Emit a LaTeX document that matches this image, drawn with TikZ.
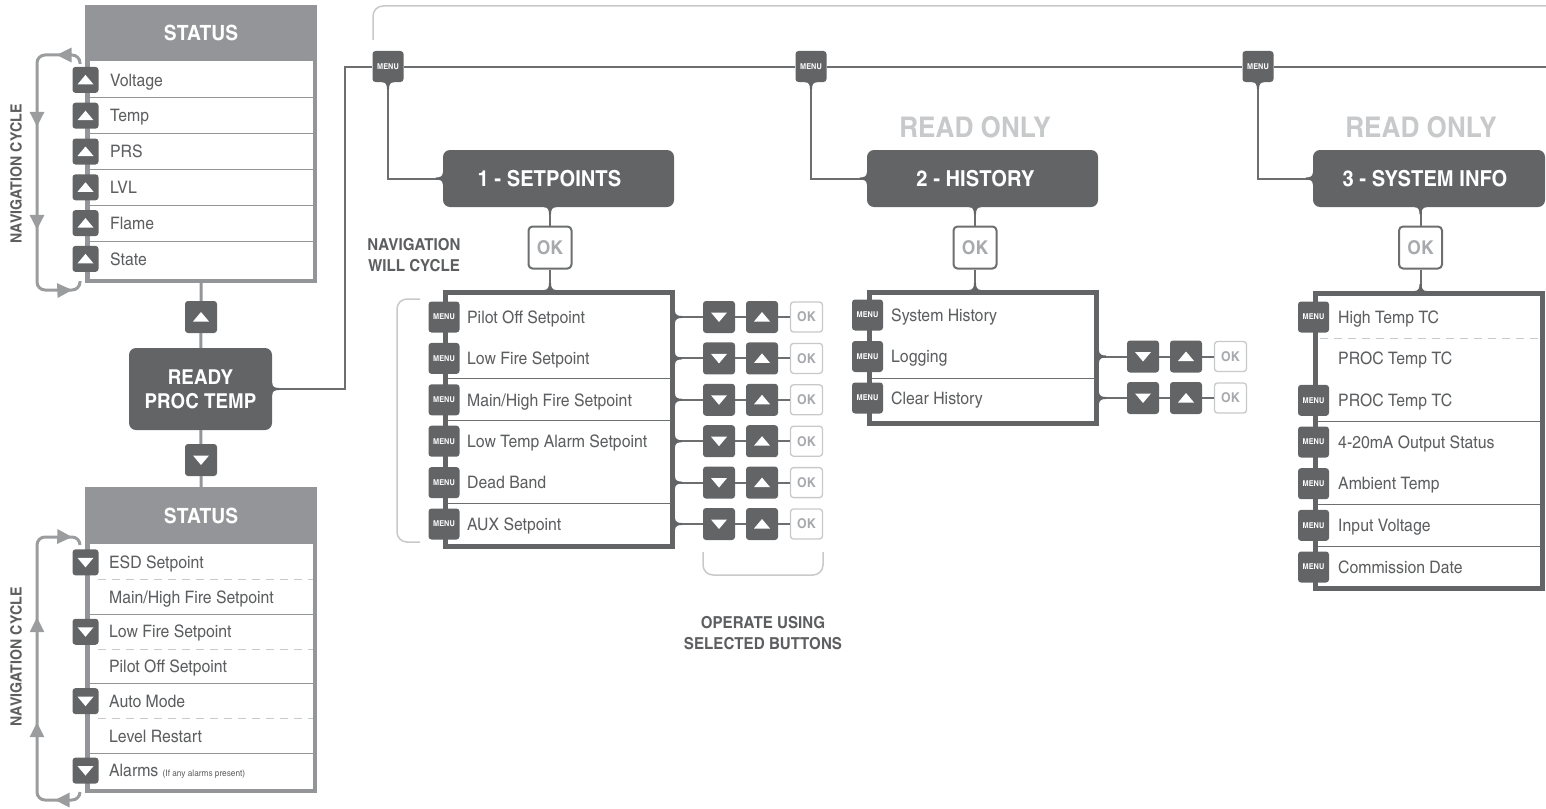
\documentclass[tikz,border=0pt]{standalone}
\usepackage{fontspec}
\setmainfont{texgyreheroscn}[Extension=.otf,UprightFont=*-regular,BoldFont=*-bold,FakeStretch=1.12]
\definecolor{boxgray}{HTML}{636466}
\definecolor{linegray}{HTML}{6D6E70}
\definecolor{hdrgray}{HTML}{939598}
\definecolor{cyclegray}{HTML}{9B9C9E}
\definecolor{faint}{HTML}{C8C9CB}
\definecolor{txtgray}{HTML}{5D5E60}
\definecolor{okgray}{HTML}{A7A9AC}
\usetikzlibrary{positioning,arrows.meta,calc,decorations.markings}

\begin{document}
\begin{tikzpicture}[x=1pt,y=-1pt,every node/.style={inner sep=0pt,text=txtgray},
      item/.style={anchor=west,text height=12.4pt,text depth=0pt,font=\fontsize{17.2}{19}\selectfont},
      hdr/.style={fill=hdrgray,minimum width=232pt,minimum height=56pt,text=white,font=\bfseries\fontsize{21}{24}\selectfont},
      stbox/.style={draw=hdrgray,line width=4.5pt,fill=white,minimum width=227.5pt},
      lstbox/.style={draw=boxgray,line width=5pt,fill=white,minimum width=227pt},
      secbox/.style={fill=boxgray,rounded corners=7pt,minimum width=231pt,minimum height=57pt,text=white,font=\bfseries\fontsize{22}{26}\selectfont},
      btn/.style={fill=boxgray,rounded corners=3pt,minimum width=#1,minimum height=#1},
      upbtn/.style={btn=#1,path picture={\fill[white,sharp corners] ($(path picture bounding box.center)+(-8,4.5)$) -- ++(16,0) -- ++(-8,-9.5) -- cycle;}},
      upbtn/.default=32pt,
      downbtn/.style={btn=#1,path picture={\fill[white,sharp corners] ($(path picture bounding box.center)+(-8,-4.5)$) -- ++(16,0) -- ++(-8,9.5) -- cycle;}},
      downbtn/.default=32pt,
      menubtn/.style={btn=31pt,text=white,font=\bfseries\fontsize{8}{8}\selectfont},
      okbig/.style={draw=linegray,line width=2pt,fill=white,rounded corners=4pt,minimum width=43pt,minimum height=42pt,text=okgray,font=\bfseries\fontsize{19}{22}\selectfont},
      oksmall/.style={draw=faint,line width=1.3pt,fill=white,rounded corners=3pt,minimum width=32pt,minimum height=30pt,text=okgray,font=\bfseries\fontsize{13.5}{15}\selectfont},
      conn/.style={draw=linegray,line width=2pt},
      stconn/.style={draw=hdrgray,line width=3pt},
      bracket/.style={draw=faint,line width=1.5pt,rounded corners=10pt},
      navloop/.style={draw=cyclegray,line width=3pt,rounded corners=8pt,postaction={decorate}},
      note/.style={font=\bfseries\fontsize{16.5}{21}\selectfont,align=center},
      readonly/.style={text=faint,font=\bfseries\fontsize{28.5}{34}\selectfont},
      sep/.style={draw=#1,line width=1pt},
      fillet/.pic={\fill[boxgray] (-6,0) .. controls (-2,0) and (-1,3) .. (-1,7) -- (1,7) .. controls (1,3) and (2,0) .. (6,0) -- cycle;}]
    \useasboundingbox (0,0) rectangle (1546,808);

    % status above
    \node[stbox,minimum height=272.5pt] (stA) at (201,144.5) {};
    \node[hdr] (stAh) at (201,33) {STATUS};
    \foreach \t [count=\i, evaluate=\i as \y using 62+35.8*(\i-0.5)] in {Voltage,Temp,PRS,LVL,Flame,State} {
      \node[upbtn=26pt] (stAb\i) at (85.5,\y) {};
      \node[item] at (110,\y) {\t};
    }
    \foreach \i [evaluate=\i as \y using 62+35.8*\i] in {1,...,5}
      \draw[sep=hdrgray] (89,\y) -- (313,\y);
    \draw[navloop,decoration={markings,
        mark=at position 29pt with {\arrow[cyclegray]{Triangle[length=15pt,width=14pt]}},
        mark=at position 117pt with {\arrow[cyclegray]{Triangle[length=15pt,width=14pt]}},
        mark=at position 220pt with {\arrow[cyclegray]{Triangle[length=15pt,width=14pt]}},
        mark=at position 312pt with {\arrow[cyclegray]{Triangle[length=15pt,width=14pt]}}}]
      (80,64) -- (80,55) -- (37,55) -- (37,290) -- (80,290) -- (80,281);
    \node[note,rotate=90,font=\bfseries\fontsize{15.5}{18}\selectfont] at (16,174) {NAVIGATION CYCLE};

    % ready screen
    \node[upbtn] (stUp) at (201,317) {};
    \node[fill=boxgray,rounded corners=7pt,minimum width=143pt,minimum height=82pt,text=white,
      font=\bfseries\fontsize{20.5}{24}\selectfont,align=center] (ready) at (200.5,389) {READY\\PROC TEMP};
    \node[downbtn] (stDn) at (201,460) {};

    % status below
    \node[stbox,minimum height=300.5pt] (stB) at (201,640.5) {};
    \node[hdr,minimum height=57pt] (stBh) at (201,515.5) {STATUS};
    \foreach \t [count=\i, evaluate=\i as \y using 545+34.7*(\i-0.5)] in {ESD Setpoint,Main/High Fire Setpoint,Low Fire Setpoint,Pilot Off Setpoint,Auto Mode,Level Restart,Alarms {\fontsize{9}{10}\selectfont(If any alarms present)}}
      \node[item] at (109,\y) {\t};
    \foreach \i [evaluate=\i as \y using 545+34.7*(\i-0.5)] in {1,3,5,7}
      \node[downbtn=26pt] (stBb\i) at (85.5,\y) {};
    \foreach \i [evaluate=\i as \y using 545+34.7*\i] in {1,3,5}
      \draw[sep=faint,dash pattern=on 8pt off 6pt] (98,\y) -- (313,\y);
    \foreach \i [evaluate=\i as \y using 545+34.7*\i] in {2,4,6}
      \draw[sep=hdrgray] (89,\y) -- (313,\y);
    \draw[navloop,decoration={markings,
        mark=at position 30pt with {\arrow[cyclegray]{Triangle[length=15pt,width=14pt]}},
        mark=at position 122pt with {\arrow[cyclegray]{Triangle[length=15pt,width=14pt]}},
        mark=at position 227pt with {\arrow[cyclegray]{Triangle[length=15pt,width=14pt]}},
        mark=at position 339pt with {\arrow[cyclegray]{Triangle[length=15pt,width=14pt]}}}]
      (80,792) -- (80,800) -- (37,800) -- (37,537) -- (80,537) -- (80,545);
    \node[note,rotate=90,font=\bfseries\fontsize{15.5}{18}\selectfont] at (16,657) {NAVIGATION CYCLE};

    \draw[stconn] (stA) -- (stUp) -- (ready) -- (stDn) -- (stBh);

    % menu bar
    \draw[bracket] (373,40) -- (373,6) -- (1546,6);
    \node[menubtn] (mA) at (388,66.5) {MENU};
    \node[menubtn] (mB) at (811,66.5) {MENU};
    \node[menubtn] (mC) at (1258,66.5) {MENU};
    \draw[conn] (ready.east) -| (345,66.5) -- (mA) -- (mB) -- (mC) -- (1546,66.5);
    \pic[rotate=90] at (ready.east) {fillet};

    \node[secbox] (setp) at (558.5,178.5) {1 - SETPOINTS\hspace*{18pt}};
    \node[secbox] (hist) at (982.5,178.5) {2 - HISTORY\hspace*{14pt}};
    \node[secbox,minimum width=232pt] (info) at (1429,178.5) {3 - SYSTEM INFO\hspace*{8pt}};
    \node[readonly] at (975,127) {READ ONLY};
    \node[readonly] at (1421,127) {READ ONLY};
    \foreach \m/\s in {mA/setp,mB/hist,mC/info} {
      \draw[conn] (\m) |- (\s);
      \pic at (\m.south) {fillet};
      \pic[rotate=-90] at (\s.west) {fillet};
    }

    \node[okbig] (okA) at (550,247.5) {OK};
    \node[okbig] (okB) at (975,247.5) {OK};
    \node[okbig] (okC) at (1420.5,247.5) {OK};

    % lists
    \node[lstbox,minimum height=254pt] (setL) at (559,419.5) {};
    \node[lstbox,minimum height=131pt] (hiL) at (983,358) {};
    \node[lstbox,minimum height=295pt] (inL) at (1429,441) {};
    \foreach \s/\o/\l in {setp/okA/setL,hist/okB/hiL,info/okC/inL} {
      \draw[conn] (\s.south -| \o) -- (\o) -- (\o |- \l.north);
      \pic at (\s.south -| \o) {fillet};
      \pic[rotate=180] at (\o |- \l.north) {fillet};
    }

    \foreach \t [count=\i, evaluate=\i as \y using 317+41.4*(\i-1)] in {Pilot Off Setpoint,Low Fire Setpoint,Main/High Fire Setpoint,Low Temp Alarm Setpoint,Dead Band,AUX Setpoint} {
      \node[menubtn] (spM\i) at (444,\y) {MENU};
      \node[item] at (467,\y) {\t};
      \node[downbtn] (spD\i) at (719,\y) {};
      \node[upbtn] (spU\i) at (762,\y) {};
      \node[oksmall] (spO\i) at (806.5,\y) {OK};
      \draw[conn] (setL.east |- spD\i) -- (spD\i) -- (spU\i) -- (spO\i);
      \pic[rotate=90] at (setL.east |- spD\i) {fillet};
    }
    \foreach \y in {378.7,420.1,503}
      \draw[sep=linegray] (448,\y) -- (671,\y);
    \draw[bracket] (420,299) -- (397,299) -- (397,542) -- (420,542);
    \draw[bracket] (703,552) -- (703,575) -- (823,575) -- (823,552);
    \node[note] (navc) at (414,255) {NAVIGATION\\WILL CYCLE};
    \node[note] (oper) at (763,633) {OPERATE USING\\SELECTED BUTTONS};

    \foreach \t [count=\i, evaluate=\i as \y using 315+41.5*(\i-1)] in {System History,Logging,Clear History} {
      \node[menubtn] (hiM\i) at (867.5,\y) {MENU};
      \node[item] at (891,\y) {\t};
    }
    \foreach \i [evaluate=\i as \y using 315+41.5*(\i-1)] in {2,3} {
      \node[downbtn] (hiD\i) at (1143,\y) {};
      \node[upbtn] (hiU\i) at (1186,\y) {};
      \node[oksmall] (hiO\i) at (1230.5,\y) {OK};
      \draw[conn] (hiL.east |- hiD\i) -- (hiD\i) -- (hiU\i) -- (hiO\i);
      \pic[rotate=90] at (hiL.east |- hiD\i) {fillet};
    }
    \draw[sep=linegray] (872,378.5) -- (1095,378.5);

    \foreach \t [count=\i, evaluate=\i as \y using 317+41.67*(\i-1)] in {High Temp TC,PROC Temp TC,PROC Temp TC,4-20mA Output Status,Ambient Temp,Input Voltage,Commission Date}
      \node[item] at (1338,\y) {\t};
    \foreach \i [evaluate=\i as \y using 317+41.67*(\i-1)] in {1,3,4,5,6,7}
      \node[menubtn] (inM\i) at (1313.5,\y) {MENU};
    \draw[sep=faint,dash pattern=on 8pt off 6pt] (1320,338) -- (1540,338);
    \foreach \y in {421,504.3,546}
      \draw[sep=linegray] (1318,\y) -- (1540,\y);
  \end{tikzpicture}
\end{document}
